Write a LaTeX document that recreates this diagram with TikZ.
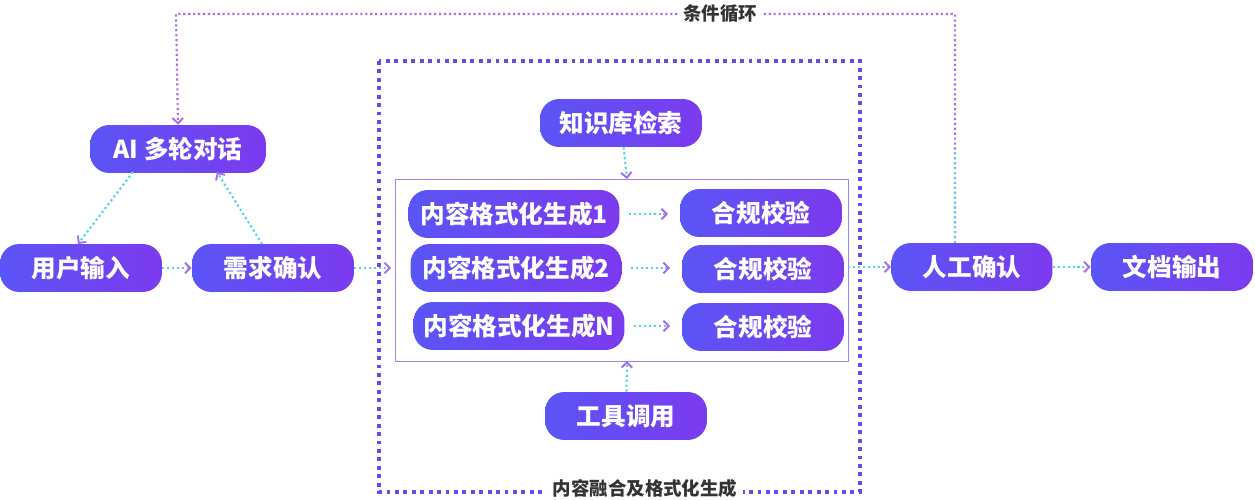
\documentclass[tikz,border=0pt]{standalone}
\usepackage{fontspec}
\setmainfont{Noto Sans CJK SC}
\usetikzlibrary{positioning,arrows.meta}
\definecolor{boxL}{HTML}{5A55F6}
\definecolor{boxR}{HTML}{7C3AEF}
\definecolor{lnC}{HTML}{4FD3EA}
\definecolor{lnP}{HTML}{A96BE8}
\definecolor{frameC}{HTML}{6A48EE}
\definecolor{txtC}{HTML}{333333}
\tikzset{
    stage/.style={rectangle, rounded corners=11pt, left color=boxL, right color=boxR, draw=none, text=white,
        minimum height=0.96cm, text centered, font=\fontsize{14}{16}\selectfont\bfseries},
    flow/.style={draw=lnC, line width=1.2pt, dash pattern=on 1.2pt off 1.6pt, -{Straight Barb[length=3pt,width=6pt,color=lnP,line width=1.1pt]}},
    tag/.style={fill=white, text=txtC, font=\fontsize{10.5}{12}\selectfont\bfseries, inner sep=3pt}
}
\begin{document}
\begin{tikzpicture}[x=0.02cm,y=-0.02cm]
    \useasboundingbox (0,0) rectangle (1255,500);
    % outer group
    \draw[frameC, line width=2.2pt, dash pattern=on 2.2pt off 2.6pt] (379,61) rectangle (860,492);
    \draw[lnP!60!boxL!80, line width=0.5pt] (395,179) rectangle (848,361);
    \node[tag] (grplabel) at (645,488) {内容融合及格式化生成};

    \node[stage, minimum width=3.52cm] (chat) at (178,149) {AI 多轮对话};
    \node[stage, minimum width=3.24cm] (input) at (81,268) {用户输入};
    \node[stage, minimum width=3.24cm] (need) at (273,268) {需求确认};

    \node[stage, minimum width=3.24cm] (kb) at (621,123) {知识库检索};
    \node[stage, minimum width=4.22cm] (gen1) at (514,214) {内容格式化生成1};
    \node[stage, minimum width=4.22cm] (gen2) at (516,268) {内容格式化生成2};
    \node[stage, minimum width=4.22cm] (genN) at (519,326) {内容格式化生成N};
    \node[stage, minimum width=3.24cm] (chk1) at (761,213) {合规校验};
    \node[stage, minimum width=3.24cm] (chk2) at (763,269) {合规校验};
    \node[stage, minimum width=3.24cm] (chkN) at (763,327) {合规校验};
    \node[stage, minimum width=3.24cm] (tool) at (626,416) {工具调用};

    \node[stage, minimum width=3.22cm] (review) at (972,267) {人工确认};
    \node[stage, minimum width=3.24cm] (output) at (1172,267) {文档输出};

    \coordinate (innerTop) at (627,179);
    \coordinate (innerBot) at (627,361);
    \coordinate (innerL) at (391,268);
    \coordinate (innerR) at (848,267);

    % connectors
    \draw[flow] (133,172) -- (78,244);
    \draw[flow] (262,244) -- (217,172);
    \draw[flow] (input) -- (need);
    \draw[flow] (need) -- (innerL);
    \draw[flow] (kb) -- (innerTop);
    \draw[flow] (tool) -- (innerBot);
    \draw[flow] (629,214) -- (668,214);
    \draw[flow] (631,268) -- (670,268);
    \draw[flow] (634,326) -- (670,326);
    \draw[flow] (innerR) -- (review);
    \draw[flow] (review) -- (output);
    % loop back
    \draw[flow, draw=lnP] (955,243) -- (955,14) -- (176,14) -- (chat.north);
    \draw[lnC, line width=1.2pt, dash pattern=on 1.2pt off 1.6pt] (955,243) -- (955,150);
    \node[tag] (looplabel) at (720,14) {条件循环};
\end{tikzpicture}
\end{document}
